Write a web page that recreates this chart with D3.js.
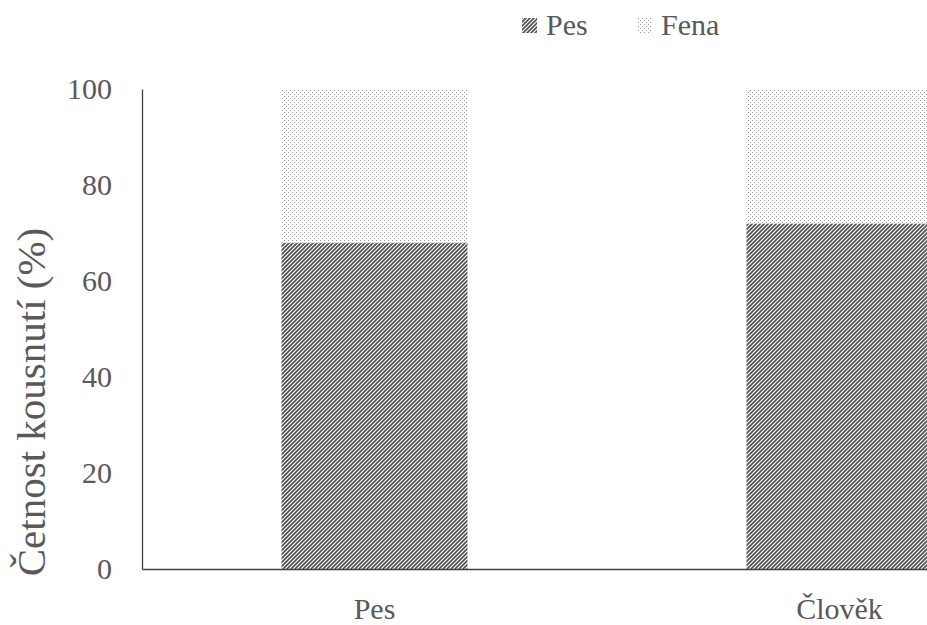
<!DOCTYPE html>
<html><head><meta charset="utf-8">
<script src="https://cdn.jsdelivr.net/npm/d3@7"></script>
</head><body style="margin:0;background:#fff">
<svg id="c" width="927" height="625" style="display:block"></svg>
<script>
const categories = ["Pes", "Člověk"];
const seriesNames = ["Pes", "Fena"];
const pesValues = [68, 72];
const fenaValues = [32, 28];
const yTicks = [0, 20, 40, 60, 80, 100];
const yTitle = "Četnost kousnutí (%)";

const FONT = '"Liberation Serif", Tinos, "Times New Roman", "Nimbus Roman", FreeSerif, serif';
const TXT = "#595959";
const svg = d3.select("#c");
const defs = svg.append("defs");
const hatch = defs.append("pattern").attr("id","hatch").attr("patternUnits","userSpaceOnUse")
  .attr("width",4).attr("height",4);
hatch.append("rect").attr("width",4).attr("height",4).attr("fill","#fff");
hatch.append("path").attr("d","M-1,1 l2,-2 M0,4 l4,-4 M3,5 l2,-2").attr("stroke","#4d4d4d").attr("stroke-width",1.6);
const dots = defs.append("pattern").attr("id","dots").attr("patternUnits","userSpaceOnUse")
  .attr("width",4).attr("height",4);
dots.append("rect").attr("width",4).attr("height",4).attr("fill","#fff");
dots.append("rect").attr("x",0).attr("y",0).attr("width",1).attr("height",1).attr("fill","#9a9a9a");
dots.append("rect").attr("x",2).attr("y",2).attr("width",1).attr("height",1).attr("fill","#9a9a9a");

const fills = ["url(#hatch)","url(#dots)"];
const x0 = 142, x1 = 1072, yTop = 89, yBot = 569;
const x = d3.scaleBand().domain(categories).range([x0, x1]).paddingInner(0).paddingOuter(0);
const y = d3.scaleLinear().domain([0,100]).range([yBot, yTop]);
const barFrac = 0.4;

const data = categories.map((c,i)=>({c, vals:[pesValues[i], fenaValues[i]]}));
const stack = d3.stack().keys([0,1]).value((d,k)=>d.vals[k]);
const stacked = stack(data);

const g = svg.append("g");
stacked.forEach((layer, k)=>{
  g.selectAll(null).data(layer).enter().append("rect")
    .attr("x", d=> x(d.data.c) + x.bandwidth()*(1-barFrac)/2)
    .attr("width", x.bandwidth()*barFrac)
    .attr("y", d=> y(d[1]))
    .attr("height", d=> y(d[0]) - y(d[1]))
    .attr("fill", fills[k]);
});

// axes
const yAxis = d3.axisLeft(y).tickValues(yTicks).tickSize(0).tickPadding(30);
const ya = svg.append("g").attr("transform",`translate(${x0},0)`).call(yAxis);
ya.attr("font-family", null);
ya.select(".domain").attr("stroke","#404040").attr("stroke-width",1.3);
ya.selectAll("text").attr("class","lbl").attr("data-fs",30);

const xAxis = d3.axisBottom(x).tickSize(0).tickPadding(29);
const xa = svg.append("g").attr("transform",`translate(0,${yBot})`).call(xAxis);
xa.attr("font-family", null);
xa.select(".domain").attr("stroke","#404040").attr("stroke-width",1.3);
xa.selectAll("text").attr("class","lbl").attr("data-fs",30);

svg.append("g").attr("transform","translate(45,402) rotate(-90)")
  .append("text").attr("class","lbl").attr("data-fs",41)
  .attr("text-anchor","middle").text(yTitle);

// legend
const legX = [522, 637];
seriesNames.forEach((n,i)=>{
  svg.append("rect").attr("x",legX[i]).attr("y",18).attr("width",15).attr("height",15).attr("fill",fills[i]);
  svg.append("text").attr("class","lbl").attr("data-fs",30).attr("x",legX[i]+24).attr("y",35).text(n);
});

function styleText(){
  svg.selectAll("text.lbl")
    .attr("font-family", FONT)
    .style("font-family", FONT)
    .style("font-size", function(){ return this.getAttribute("data-fs")+"px"; })
    .attr("fill", TXT);
}
styleText();
if (document.fonts) {
  document.fonts.load('30px "Liberation Serif"').then(styleText).catch(()=>{});
  document.fonts.ready.then(styleText);
}
</script>
</body></html>
